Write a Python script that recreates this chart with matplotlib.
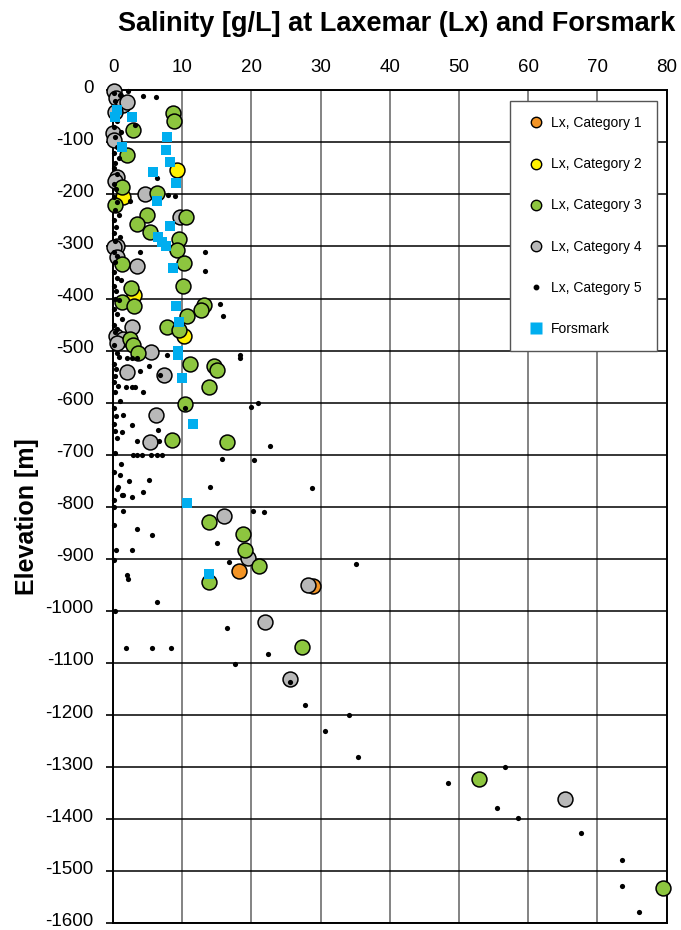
import matplotlib
matplotlib.use("Agg")
import matplotlib.pyplot as plt
from matplotlib.lines import Line2D
from matplotlib.transforms import ScaledTranslation

plt.rcParams['font.family'] = ['Liberation Sans', 'DejaVu Sans']
plt.rcParams['axes.unicode_minus'] = False

# --- data: salinity [g/L] vs elevation [m]
cat1_x = [18.2, 28.9]
cat1_y = [-924, -952]

cat2_x = [9.2, 1.4, 3.0, 10.3]
cat2_y = [-153, -206, -393, -472]

cat3_x = [8.7, 8.8, 2.9, 2.0, 1.3, 6.3, 0.3, 4.9, 10.5, 3.5, 5.3, 9.5, 9.2, 10.2, 1.3,
          2.6, 10.1, 1.3, 3.0, 13.1, 12.7, 10.7, 7.8, 9.5, 2.5, 2.9, 3.6, 11.1, 14.6,
          15.0, 13.9, 10.4, 8.5, 16.5, 13.9, 18.8, 19.1, 21.1, 13.9, 27.3, 52.9, 79.4]
cat3_y = [-44, -59, -76, -124, -185, -198, -221, -240, -243, -256, -273, -286, -306, -332, -334,
          -380, -376, -407, -414, -412, -422, -433, -454, -460, -477, -490, -504, -525, -530,
          -538, -569, -603, -672, -675, -830, -853, -882, -914, -945, -1069, -1323, -1532]

cat4_x = [0.2, 0.4, 1.4, 0.3, 2.0, 0.0, 0.2, 0.6, 0.3, 4.6, 9.7, 0.6, 0.1, 0.5, 3.5,
          2.7, 0.4, 1.5, 0.5, 5.5, 2.0, 7.4, 6.2, 5.3, 16.0, 19.5, 28.2, 21.9, 25.5, 65.3]
cat4_y = [-2, -15, -29, -42, -23, -82, -95, -166, -175, -200, -244, -300, -302, -320, -337,
          -454, -472, -477, -486, -502, -542, -547, -624, -676, -817, -899, -950, -1021, -1130, -1361]

cat5_x = [0.2, 1.0, 0.3, 0.8, 0.2, 0.5, 0.2, 1.2, 0.3, 0.5, 0.2, 0.9, 0.3, 0.2, 0.6,
          0.2, 0.4, 0.2, 0.6, 0.3, 0.8, 0.2, 0.4, 0.2, 1.0, 0.3, 0.2, 0.6, 0.3, 0.2,
          0.5, 1.2, 0.2, 0.4, 0.3, 0.8, 0.2, 0.5, 1.3, 0.2, 0.6, 0.3, 0.2, 0.5, 0.9,
          0.2, 0.4, 0.3, 0.2, 0.7, 0.3, 1.0, 0.2, 0.4, 1.5, 0.2, 0.6, 0.3, 1.3, 0.3,
          1.2, 0.2, 1.0, 0.5, 0.7, 1.3, 1.5, 0.2, 0.2, 1.5, 0.2, 0.4, 0.2, 0.3,
          2.2, 4.3, 6.2, 3.2, 6.4, 9.0, 8.0, 2.5, 3.9, 13.3, 13.3, 15.5, 15.9, 18.3,
          18.3, 7.8, 2.0, 2.7, 3.5, 3.9, 5.2, 6.8, 4.3, 1.8, 2.8, 3.2, 2.7, 3.5, 6.6,
          6.5, 2.9, 3.4, 4.2, 5.5, 6.4, 7.1, 2.3, 5.2, 4.3, 2.8, 3.5, 5.6, 2.7, 2.0,
          2.1, 6.3, 20.9, 19.9, 22.7, 15.7, 20.4, 14.0, 20.2, 21.8, 15.0, 16.8, 16.5,
          28.7, 35.1, 22.4, 17.6, 25.5, 27.7, 34.1, 30.6, 35.4, 48.4, 56.6, 55.5, 58.5,
          67.6, 73.5, 73.5, 76.0, 1.9, 5.6, 8.4, 10.4]
cat5_y = [-5, -10, -20, -35, -50, -60, -70, -80, -90, -110, -120, -130, -140, -150, -160,
          -180, -190, -205, -215, -230, -240, -250, -262, -275, -282, -290, -310, -318, -330, -350,
          -360, -365, -375, -385, -400, -403, -420, -430, -440, -450, -458, -465, -490, -505, -512,
          -525, -535, -548, -560, -568, -580, -597, -610, -625, -624, -640, -668, -655, -657, -697,
          -718, -733, -738, -765, -762, -778, -778, -786, -801, -808, -834, -883, -902, -1000,
          -2, -11, -13, -67, -168, -204, -202, -213, -311, -311, -347, -410, -433, -508,
          -515, -509, -515, -515, -515, -540, -530, -547, -579, -569, -569, -569, -643, -674, -674,
          -652, -700, -700, -700, -700, -700, -700, -750, -748, -772, -782, -843, -855, -882, -931,
          -938, -983, -601, -609, -683, -708, -710, -761, -808, -809, -870, -906, -1032,
          -763, -910, -1082, -1101, -1137, -1181, -1200, -1231, -1281, -1330, -1300, -1378, -1397,
          -1427, -1478, -1528, -1578, -1071, -1071, -1071, -610]

fors_x = [0.6, 0.3, 2.7, 7.8, 1.3, 7.7, 8.2, 5.8, 9.1, 6.3, 8.2, 6.5, 7.1, 7.7, 8.7,
          9.1, 9.5, 9.4, 9.4, 10.0, 11.5, 10.7, 13.9]
fors_y = [-38, -51, -51, -90, -109, -115, -137, -158, -179, -213, -261, -282, -292, -299, -342,
          -414, -445, -500, -508, -552, -641, -792, -929]

labels = ["Lx, Category 1", "Lx, Category 2", "Lx, Category 3",
          "Lx, Category 4", "Lx, Category 5", "Forsmark"]

c_orange = '#F39425'
c_yellow = '#FFF200'
c_green = '#8DC63F'
c_gray = '#B8B8B8'
c_blue = '#00AEEF'

fig = plt.figure(figsize=(6.81, 9.30), dpi=100)
ax = fig.add_axes([0.166, 0.007, 0.813, 0.896])

big = 115
kw = dict(edgecolors='black', linewidths=1.1, clip_on=False)
ax.scatter(cat1_x, cat1_y, s=big, c=c_orange, zorder=3, **kw)
ax.scatter(cat2_x, cat2_y, s=big, c=c_yellow, zorder=3, **kw)
ax.scatter(cat4_x, cat4_y, s=big, c=c_gray, zorder=3, **kw)
ax.scatter(cat3_x, cat3_y, s=big, c=c_green, zorder=3, **kw)
ax.scatter(cat5_x, cat5_y, s=14, c='black', linewidths=0, zorder=4, clip_on=False)
ax.scatter(fors_x, fors_y, s=60, c=c_blue, marker='s', linewidths=0, zorder=5, clip_on=False)

ax.set_xlim(0, 80)
ax.set_ylim(-1600, 0)
ax.set_xticks(range(0, 81, 10))
ax.set_yticks(range(-1600, 1, 100))
ax.xaxis.tick_top()
ax.tick_params(axis='x', length=0, pad=10, labelsize=13.5)
ax.tick_params(axis='y', length=5, width=1.2, pad=9, labelsize=13.5, direction='out')

# y labels sit a few pixels above their lines in the reference
shift = ScaledTranslation(0, 3 / 72, fig.dpi_scale_trans)
for lab in ax.get_yticklabels():
    lab.set_transform(lab.get_transform() + shift)

ax.set_axisbelow(True)
ax.grid(axis='x', color='#7a7a7a', lw=1.3)
ax.grid(axis='y', color='black', lw=1.1)
for sp in ax.spines.values():
    sp.set_linewidth(1.4)
    sp.set_color('black')

fig.text(0.583, 0.974, "Salinity [g/L] at Laxemar (Lx) and Forsmark",
         ha='center', va='center', fontsize=19.5, fontweight='bold')
fig.text(0.04, 0.444, "Elevation [m]", rotation=90, ha='center', va='center',
         fontsize=18, fontweight='bold')

handles = [
    Line2D([], [], ls='none', marker='o', ms=7.5, mfc=c_orange, mec='black', mew=1.0),
    Line2D([], [], ls='none', marker='o', ms=7.5, mfc=c_yellow, mec='black', mew=1.0),
    Line2D([], [], ls='none', marker='o', ms=7.5, mfc=c_green, mec='black', mew=1.0),
    Line2D([], [], ls='none', marker='o', ms=7.5, mfc=c_gray, mec='black', mew=1.0),
    Line2D([], [], ls='none', marker='o', ms=3.2, mfc='black', mec='black'),
    Line2D([], [], ls='none', marker='s', ms=8, mfc=c_blue, mec='none'),
]
leg = ax.legend(handles, labels, loc='upper right', bbox_to_anchor=(0.982, 0.987),
                borderaxespad=0, fontsize=10, labelspacing=1.95, borderpad=1.1,
                handlelength=1.5, handletextpad=0.3, fancybox=False, framealpha=1,
                edgecolor='#555555')
leg.get_frame().set_linewidth(1.0)
leg.set_zorder(10)

fig.savefig("out.png", dpi=100)
